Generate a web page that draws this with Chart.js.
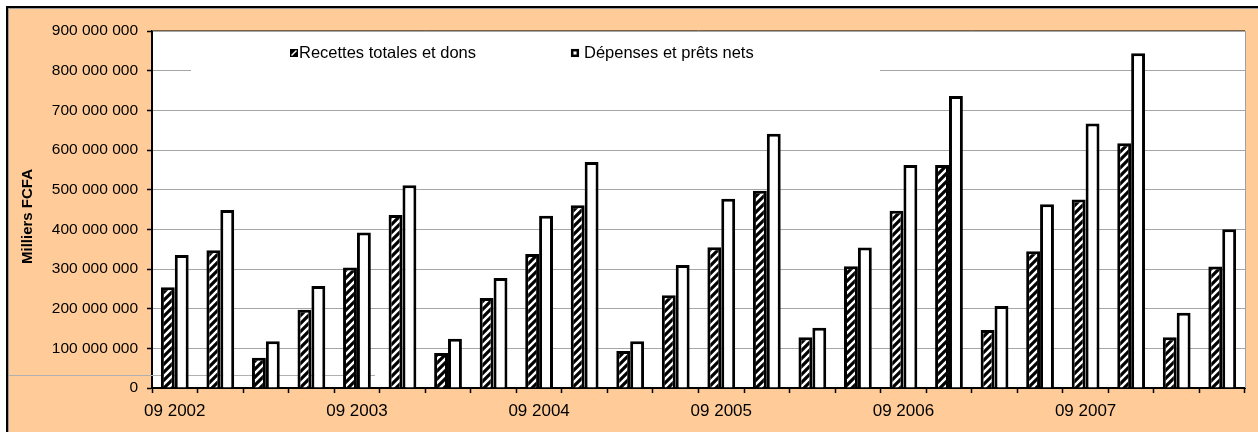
<!DOCTYPE html>
<html>
<head>
<meta charset="utf-8">
<script src="https://cdn.jsdelivr.net/npm/chart.js@4/dist/chart.umd.min.js"></script>
<style>
  html, body { margin: 0; padding: 0; background: #fff; }
  #wrap { width: 1258px; height: 432px; }
</style>
</head>
<body>
<div id="wrap"><canvas id="c" width="1258" height="432"></canvas></div>
<script>
// ---- Data (values in millions of "Milliers FCFA") ----
const categories = [
  '09 2002','12 2002','03 2003','06 2003',
  '09 2003','12 2003','03 2004','06 2004',
  '09 2004','12 2004','03 2005','06 2005',
  '09 2005','12 2005','03 2006','06 2006',
  '09 2006','12 2006','03 2007','06 2007',
  '09 2007','12 2007','03 2008','06 2008'
];
const recettesMillions = [254, 347, 76, 197, 304, 436, 88, 227, 338, 461, 93, 234, 355, 497, 128, 307, 447, 562, 146, 345, 475, 617, 128, 306];
const depensesMillions = [335, 449, 118, 257, 392, 511, 124, 277, 434, 570, 118, 310, 477, 641, 152, 354, 562, 736, 207, 463, 667, 844, 190, 400];
const seriesLabels = ['Recettes totales et dons', 'Dépenses et prêts nets'];
const yTitle = 'Milliers FCFA';
const labelEvery = 4;

const FONT = "'Liberation Sans', Arial, sans-serif";

function fmt(v) { return String(Math.round(v)).replace(/\B(?=(\d{3})+(?!\d))/g, ' '); }

const canvas = document.getElementById('c');
const ctx = canvas.getContext('2d');

function makeHatch(c2d) {
  const s = 8;
  const t = document.createElement('canvas');
  t.width = s; t.height = s;
  const g = t.getContext('2d');
  g.fillStyle = '#fff'; g.fillRect(0, 0, s, s);
  g.strokeStyle = '#000'; g.lineWidth = 3.2;
  g.beginPath();
  g.moveTo(-2, s + 2); g.lineTo(s + 2, -2);
  g.moveTo(-2, 2); g.lineTo(2, -2);
  g.moveTo(s - 2, s + 2); g.lineTo(s + 2, s - 2);
  g.stroke();
  return c2d.createPattern(t, 'repeat');
}
const hatch = makeHatch(ctx);

const framePlugin = {
  id: 'frame',
  beforeDraw(chart) {
    const c = chart.ctx, W = chart.width, H = chart.height, a = chart.chartArea;
    c.save();
    c.fillStyle = '#fff'; c.fillRect(0, 0, W, H);
    c.fillStyle = '#000'; c.fillRect(6, 6, W, H);
    c.fillStyle = '#9a9a9a'; c.fillRect(8, 8, W, H);
    c.fillStyle = '#FFCC99'; c.fillRect(9, 9, W, H);
    c.fillStyle = '#fff'; c.fillRect(a.left, a.top, a.right - a.left, a.bottom - a.top);
    c.restore();
  },
  beforeDatasetsDraw(chart) {
    const c = chart.ctx;
    c.save();
    c.strokeStyle = '#b0b0b0'; c.lineWidth = 1;
    c.beginPath(); c.moveTo(9, 375.5); c.lineTo(375, 375.5); c.stroke();
    c.restore();
  },
  afterDraw(chart) {
    const c = chart.ctx, a = chart.chartArea;
    c.save();
    // plot area border (top brown, right gray)
    c.strokeStyle = '#7a6040'; c.lineWidth = 1;
    c.beginPath(); c.moveTo(a.left, a.top - 0.5); c.lineTo(a.right, a.top - 0.5); c.stroke();
    c.strokeStyle = '#a0a0a0';
    c.beginPath(); c.moveTo(a.right + 0.5, a.top); c.lineTo(a.right + 0.5, a.bottom); c.stroke();

    // legend (inside plot area)
    c.fillStyle = '#fff'; c.fillRect(191, 38, 689, 40);
    c.font = '16.5px ' + FONT; c.textBaseline = 'middle'; c.textAlign = 'left';
    // item 1
    c.fillStyle = '#000'; c.fillRect(290, 49, 8, 8);
    c.strokeStyle = '#fff'; c.lineWidth = 1.5;
    c.beginPath(); c.moveTo(291.5, 55.5); c.lineTo(296.5, 50.5); c.stroke();
    c.fillStyle = '#000'; c.fillText(chart.data.datasets[0].label, 299, 53.5);
    // item 2
    c.fillStyle = '#fff'; c.fillRect(571, 49, 8, 8);
    c.strokeStyle = '#000'; c.lineWidth = 2.5;
    c.strokeRect(572.2, 50.2, 5.6, 5.6);
    c.fillStyle = '#000'; c.fillText(chart.data.datasets[1].label, 584, 53.5);

    // y-axis title
    c.translate(28, 216.5);
    c.rotate(-Math.PI / 2);
    c.font = 'bold 15px ' + FONT; c.textAlign = 'center'; c.textBaseline = 'middle';
    c.fillStyle = '#000'; c.fillText(yTitle, 0, 0);
    c.restore();
  }
};

new Chart(ctx, {
  type: 'bar',
  data: {
    labels: categories,
    datasets: [
      { label: seriesLabels[0], data: recettesMillions.map(v => v * 1e6),
        backgroundColor: hatch, borderColor: '#000', borderWidth: 3, borderSkipped: 'start',
        categoryPercentage: 0.61, barPercentage: 1.0 },
      { label: seriesLabels[1], data: depensesMillions.map(v => v * 1e6),
        backgroundColor: '#fff', borderColor: '#000', borderWidth: 3, borderSkipped: 'start',
        categoryPercentage: 0.61, barPercentage: 1.0 }
    ]
  },
  options: {
    responsive: false, animation: false, devicePixelRatio: 1,
    layout: { padding: { left: 0, right: 13, top: 31, bottom: 0 } },
    plugins: { legend: { display: false }, tooltip: { enabled: false }, title: { display: false } },
    scales: {
      x: {
        grid: { display: true, drawOnChartArea: false, drawTicks: true, tickLength: 5, tickColor: '#000', tickWidth: 1.5, offset: true },
        border: { display: true, color: '#000', width: 2 },
        ticks: { autoSkip: false, maxRotation: 0, minRotation: 0, padding: 8, color: '#000',
          font: { family: FONT, size: 17 },
          callback: (v, i) => (i % labelEvery === 0 ? categories[i] : '') },
        afterFit: s => { s.height = 44; }
      },
      y: {
        min: 0, max: 900e6,
        grid: { color: '#a6a6a6', lineWidth: 1, tickLength: 5, tickColor: '#000', tickWidth: 1.5 },
        border: { display: true, color: '#000', width: 2 },
        ticks: { stepSize: 100e6, padding: 9, color: '#000', font: { family: FONT, size: 15.5 }, callback: v => fmt(v) },
        afterFit: s => { s.width = 152; }
      }
    }
  },
  plugins: [framePlugin]
});
</script>
</body>
</html>
